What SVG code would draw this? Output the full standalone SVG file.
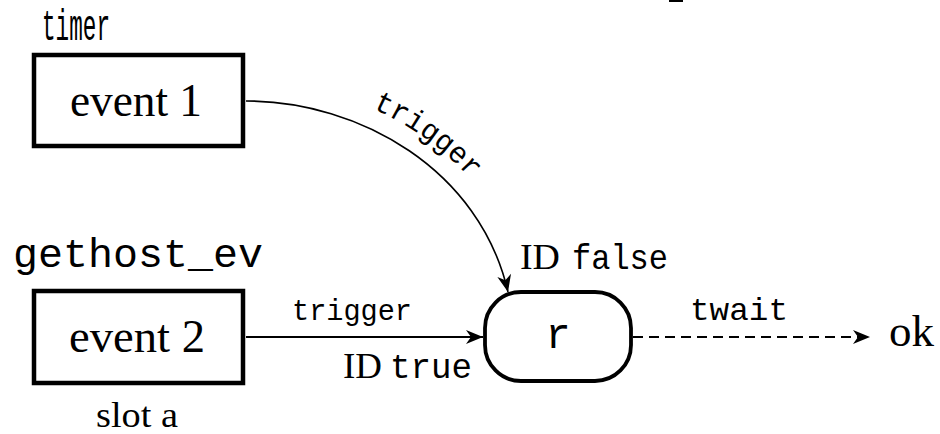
<svg xmlns="http://www.w3.org/2000/svg" width="940" height="434" viewBox="0 0 940 434">
<style>
.box{fill:#fff;stroke:#000;stroke-width:4.5}
.rnode{fill:#fff;stroke:#000;stroke-width:3.8}
.serif{font-family:"Liberation Serif","Times New Roman",serif;fill:#000}
.mono{font-family:"Liberation Mono","DejaVu Sans Mono",monospace;fill:#000}
.edge{fill:none;stroke:#000}
</style>
<defs>
<marker id="ah" markerUnits="userSpaceOnUse" markerWidth="24" markerHeight="20" viewBox="-18 -10 20 20" refX="0" refY="0" orient="auto">
<path d="M0,0 L-17,-7 L-12,0 L-17,7 Z" fill="#000"/>
</marker>
<path id="lblpath" d="M246,81 C370,81 498,160 528,288" fill="none"/>
</defs>
<rect x="669" y="0" width="14" height="2" fill="#000"/>
<g id="n-event1">
<text class="mono" x="76" y="40" font-size="44" text-anchor="middle" textLength="68" lengthAdjust="spacingAndGlyphs">timer</text>
<rect class="box" x="34" y="55" width="209" height="91"/>
<text class="serif" x="136" y="116" font-size="46" text-anchor="middle" textLength="132" lengthAdjust="spacingAndGlyphs">event 1</text>
</g>
<g id="n-event2">
<text class="mono" x="138" y="267" font-size="40" text-anchor="middle" textLength="250" lengthAdjust="spacingAndGlyphs">gethost_ev</text>
<rect class="box" x="34" y="291" width="209" height="92"/>
<text class="serif" x="137" y="352" font-size="46" text-anchor="middle" textLength="136" lengthAdjust="spacingAndGlyphs">event 2</text>
<text class="serif" x="137" y="427" font-size="36" text-anchor="middle" textLength="82" lengthAdjust="spacingAndGlyphs">slot a</text>
</g>
<g id="n-r">
<rect class="rnode" x="485" y="292" width="146" height="89" rx="36" ry="36"/>
<text class="mono" x="558" y="348" font-size="42" text-anchor="middle">r</text>
<text x="520" y="269" font-size="35"><tspan class="serif" textLength="40" lengthAdjust="spacingAndGlyphs">ID</tspan><tspan class="mono" x="572" textLength="96" lengthAdjust="spacingAndGlyphs">false</tspan></text>
<text x="343" y="378" font-size="35"><tspan class="serif" textLength="39" lengthAdjust="spacingAndGlyphs">ID</tspan><tspan class="mono" x="390" textLength="82" lengthAdjust="spacingAndGlyphs">true</tspan></text>
</g>
<g id="n-ok">
<text class="serif" x="889" y="346" font-size="44" textLength="45" lengthAdjust="spacingAndGlyphs">ok</text>
</g>
<g id="edges">
<path class="edge" stroke-width="1.6" d="M246,101 C360,101 480,170 508,292" marker-end="url(#ah)"/>
<text class="mono" font-size="30"><textPath href="#lblpath" startOffset="130" textLength="122" lengthAdjust="spacingAndGlyphs">trigger</textPath></text>
<path class="edge" stroke-width="2" d="M246,337 L483,337" marker-end="url(#ah)"/>
<text class="mono" x="352" y="320" font-size="30" text-anchor="middle" textLength="120" lengthAdjust="spacingAndGlyphs">trigger</text>
<path class="edge" stroke-width="2" stroke-dasharray="10,6" d="M633,337 L870,337" marker-end="url(#ah)"/>
<text class="mono" x="739" y="320" font-size="32" text-anchor="middle" textLength="98" lengthAdjust="spacingAndGlyphs">twait</text>
</g>
</svg>
